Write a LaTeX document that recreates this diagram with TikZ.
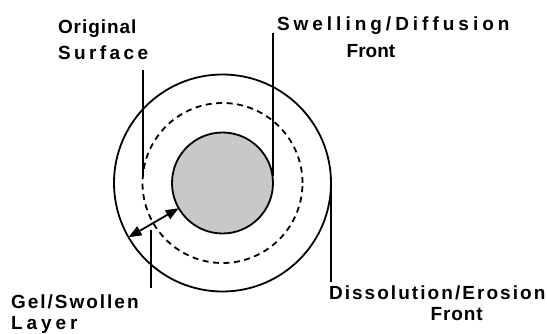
\documentclass[tikz,border=0pt]{standalone}
\usepackage{fontspec}
\setmainfont{Liberation Sans}
\newfontfamily\labfont{Liberation Sans Bold}
\usetikzlibrary{arrows.meta}
\newcommand{\lsp}[2]{{\addfontfeature{LetterSpace=#1}#2}}
\begin{document}
\begin{tikzpicture}[x=1pt,y=-1pt,
  lab/.style={anchor=base west,inner sep=0pt,outer sep=0pt,font=\labfont\fontsize{19}{22}\selectfont},
  ring/.style={circle,inner sep=0pt,outer sep=0pt,line width=1.8pt},
  leader/.style={line width=1.8pt},
  gapar/.style={line width=1.8pt,{Triangle[length=13pt,width=10pt]}-{Triangle[length=13pt,width=10pt]}}]
\useasboundingbox (0,0) rectangle (547,334);
% circles
\node[ring,draw,minimum size=217pt] (outer) at (222.5,183) {};
\node[ring,draw,dash pattern=on 6pt off 4.5pt,minimum size=160pt] (dash) at (222.5,183) {};
\node[ring,draw,fill={rgb,255:red,200;green,200;blue,200},minimum size=101pt] (inner) at (222.5,183) {};
% labels
\node[lab] (orig) at (58,33.3) {\lsp{5}{Original}};
\node[lab] (surf) at (58,59.3) {\lsp{18}{Surface}};
\node[lab] (swell) at (277,30.7) {\lsp{21}{Swelling/Diffusion}};
\node[lab] (front1) at (346.7,57.3) {Front};
\node[lab] (gel) at (11,308.3) {\lsp{10.5}{Gel/Swollen}};
\node[lab] (layer) at (11,329.5) {\lsp{21}{Layer}};
\node[lab] (diss) at (329,300) {\lsp{10.8}{Dissolution/Erosion}};
\node[lab] (front2) at (430.7,320) {\lsp{4.6}{Front}};
% leader end points
\coordinate (o1) at (143.3,70);
\coordinate (o2) at (143.3,177);
\coordinate (s1) at (273.3,33);
\coordinate (s2) at (273.3,176);
\coordinate (d1) at (331,186);
\coordinate (d2) at (331,282);
\coordinate (g1) at (151,230);
\coordinate (g2) at (151,288.3);
\draw[leader] (o1) -- (o2);
\draw[leader] (s1) -- (s2);
\draw[leader] (d1) -- (d2);
\draw[leader] (g1) -- (g2);
% thickness arrow
\draw[gapar] (outer.210) -- (inner.210);
\end{tikzpicture}
\end{document}
